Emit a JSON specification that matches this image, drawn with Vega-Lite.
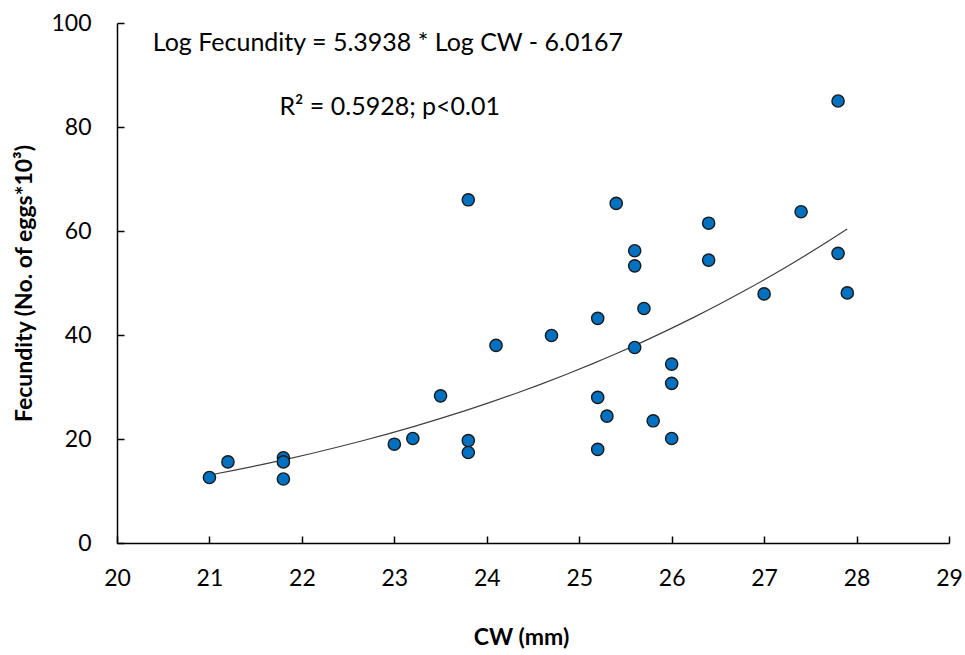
{
  "$schema": "https://vega.github.io/schema/vega-lite/v6.json",
  "autosize": {"type": "none"},
  "padding": {"left": 117, "top": 23, "right": 16, "bottom": 112},
  "width": 832,
  "height": 520,
  "background": "white",
  "config": {
    "view": {"stroke": null},
    "font": "Lato",
    "axis": {
      "grid": false,
      "labelFlush": false,
      "domainColor": "black",
      "domainWidth": 1.5,
      "tickColor": "black",
      "tickWidth": 1.5,
      "tickSize": -7,
      "labelFont": "Lato",
      "labelFontSize": 23,
      "labelColor": "black",
      "titleFont": "Lato",
      "titleFontSize": 23,
      "titleFontWeight": "bold",
      "titleColor": "black"
    }
  },
  "datasets": {
    "pts": [
      {"CW": 21.0, "F": 12.6},
      {"CW": 21.2, "F": 15.6},
      {"CW": 21.8, "F": 16.4},
      {"CW": 21.8, "F": 15.6},
      {"CW": 21.8, "F": 12.3},
      {"CW": 23.0, "F": 19.0},
      {"CW": 23.2, "F": 20.1},
      {"CW": 23.5, "F": 28.3},
      {"CW": 23.8, "F": 66.0},
      {"CW": 23.8, "F": 19.7},
      {"CW": 23.8, "F": 17.4},
      {"CW": 24.1, "F": 38.0},
      {"CW": 24.7, "F": 39.9},
      {"CW": 25.2, "F": 43.2},
      {"CW": 25.2, "F": 28.0},
      {"CW": 25.2, "F": 18.0},
      {"CW": 25.3, "F": 24.4},
      {"CW": 25.4, "F": 65.3},
      {"CW": 25.6, "F": 56.2},
      {"CW": 25.6, "F": 53.3},
      {"CW": 25.6, "F": 37.6},
      {"CW": 25.7, "F": 45.1},
      {"CW": 25.8, "F": 23.5},
      {"CW": 26.0, "F": 34.4},
      {"CW": 26.0, "F": 30.7},
      {"CW": 26.0, "F": 20.1},
      {"CW": 26.4, "F": 61.5},
      {"CW": 26.4, "F": 54.4},
      {"CW": 27.0, "F": 47.9},
      {"CW": 27.4, "F": 63.7},
      {"CW": 27.8, "F": 85.0},
      {"CW": 27.8, "F": 55.7},
      {"CW": 27.9, "F": 48.1}
    ],
    "notes": [
      {"CW": 22.93, "F": 96.2, "label": "Log Fecundity = 5.3938 * Log CW - 6.0167"},
      {"CW": 22.95, "F": 83.8, "label": "R² = 0.5928; p<0.01"}
    ]
  },
  "layer": [
    {
      "data": {"name": "pts"},
      "transform": [
        {"regression": "F", "on": "CW", "method": "pow", "extent": [21, 27.9]}
      ],
      "mark": {"type": "line", "color": "#404040", "strokeWidth": 1.2, "interpolate": "monotone"},
      "encoding": {
        "x": {"field": "CW", "type": "quantitative"},
        "y": {"field": "F", "type": "quantitative"}
      }
    },
    {
      "data": {"name": "pts"},
      "mark": {"type": "point", "filled": true, "fill": "#0070C0", "stroke": "#1a1a1a", "strokeWidth": 1.4, "size": 150, "opacity": 1},
      "encoding": {
        "x": {
          "field": "CW", "type": "quantitative",
          "scale": {"domain": [20, 29], "nice": false, "zero": false},
          "axis": {"values": [20, 21, 22, 23, 24, 25, 26, 27, 28, 29], "format": "d", "title": "CW (mm)", "labelPadding": 31, "titlePadding": 36, "titleX": 404}
        },
        "y": {
          "field": "F", "type": "quantitative",
          "scale": {"domain": [0, 100], "nice": false},
          "axis": {"values": [0, 20, 40, 60, 80, 100], "title": "Fecundity (No. of eggs*10³)", "labelPadding": 33, "titlePadding": 14}
        }
      }
    },
    {
      "data": {"name": "notes"},
      "mark": {"type": "text", "font": "Lato", "fontSize": 25, "color": "black", "align": "center", "baseline": "middle"},
      "encoding": {
        "x": {"field": "CW", "type": "quantitative"},
        "y": {"field": "F", "type": "quantitative"},
        "text": {"field": "label"}
      }
    }
  ]
}
